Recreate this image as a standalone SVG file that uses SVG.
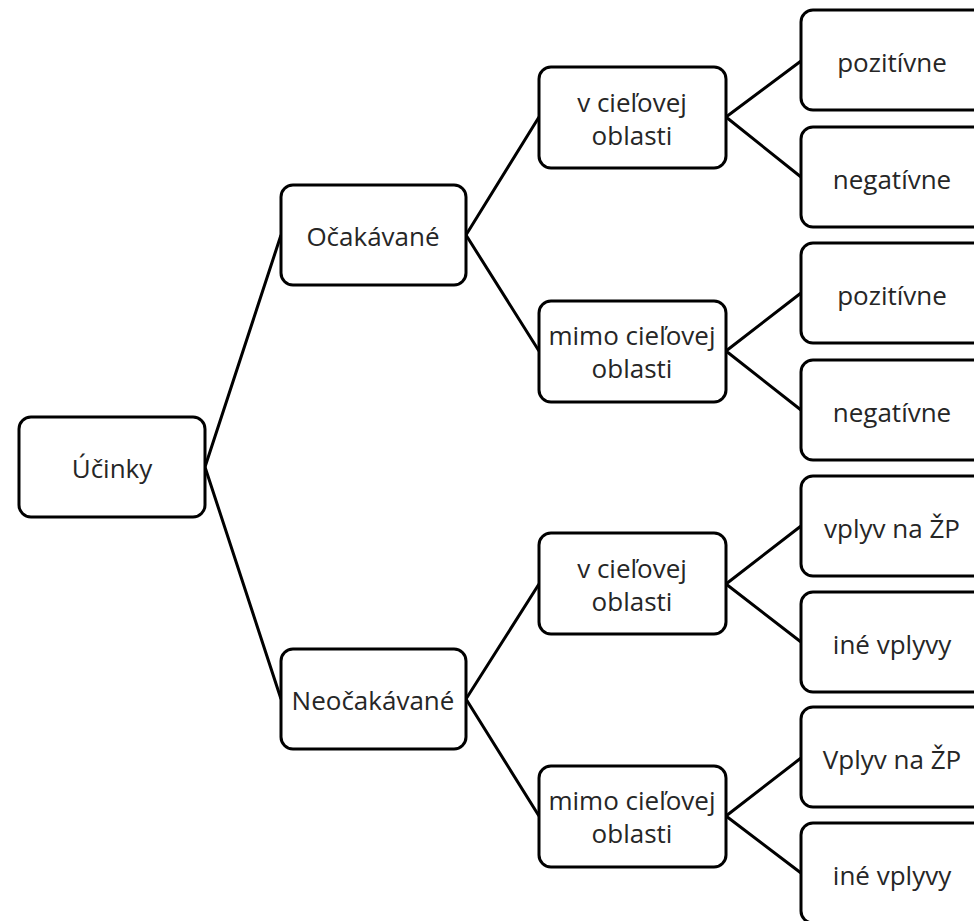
<svg xmlns="http://www.w3.org/2000/svg" width="974" height="921" viewBox="0 0 974 921">
<style>
.n{fill:#fff;stroke:#000;stroke-width:3}
.t{font-family:"Open Sans","Liberation Sans",sans-serif;font-size:26px;fill:#262626;text-anchor:middle}
.c{stroke:#000;stroke-width:3;fill:none}
</style>
<rect width="974" height="921" fill="#fff"/>
<g id="connectors">
<path class="c" d="M205,467L281,235M205,467L281,699"/>
<path class="c" d="M466,235L539,117M466,235L539,351M466,699L539,584M466,699L539,816"/>
<path class="c" d="M726,117L801,61M726,117L801,177M726,351L801,293M726,351L801,410M726,584L801,526M726,584L801,642M726,816L801,758M726,816L801,873"/>
</g>
<g id="root"><rect class="n" x="19" y="417" width="186" height="100" rx="12"/><text class="t" x="112" y="478">Účinky</text></g>
<g id="ocakavane"><rect class="n" x="281" y="185" width="185" height="100" rx="12"/><text class="t" x="373" y="246">Očakávané</text></g>
<g id="neocakavane"><rect class="n" x="281" y="649" width="185" height="100" rx="12"/><text class="t" x="373" y="710">Neočakávané</text></g>
<g id="oc-v"><rect class="n" x="539" y="67" width="187" height="101" rx="12"/><text class="t" x="632" y="112">v cieľovej</text><text class="t" x="632" y="145">oblasti</text></g>
<g id="oc-mimo"><rect class="n" x="539" y="301" width="187" height="101" rx="12"/><text class="t" x="632" y="345">mimo cieľovej</text><text class="t" x="632" y="378">oblasti</text></g>
<g id="ne-v"><rect class="n" x="539" y="533" width="187" height="101" rx="12"/><text class="t" x="632" y="578">v cieľovej</text><text class="t" x="632" y="611">oblasti</text></g>
<g id="ne-mimo"><rect class="n" x="539" y="766" width="187" height="101" rx="12"/><text class="t" x="632" y="810">mimo cieľovej</text><text class="t" x="632" y="843">oblasti</text></g>
<g id="l1"><rect class="n" x="801" y="10" width="186" height="100" rx="12"/><text class="t" x="892" y="72">pozitívne</text></g>
<g id="l2"><rect class="n" x="801" y="127" width="186" height="100" rx="12"/><text class="t" x="892" y="189">negatívne</text></g>
<g id="l3"><rect class="n" x="801" y="243" width="186" height="100" rx="12"/><text class="t" x="892" y="305">pozitívne</text></g>
<g id="l4"><rect class="n" x="801" y="360" width="186" height="100" rx="12"/><text class="t" x="892" y="422">negatívne</text></g>
<g id="l5"><rect class="n" x="801" y="476" width="186" height="100" rx="12"/><text class="t" x="892" y="538">vplyv na ŽP</text></g>
<g id="l6"><rect class="n" x="801" y="592" width="186" height="100" rx="12"/><text class="t" x="892" y="654">iné vplyvy</text></g>
<g id="l7"><rect class="n" x="801" y="707" width="186" height="100" rx="12"/><text class="t" x="892" y="769">Vplyv na ŽP</text></g>
<g id="l8"><rect class="n" x="801" y="823" width="186" height="100" rx="12"/><text class="t" x="892" y="885">iné vplyvy</text></g>
</svg>
